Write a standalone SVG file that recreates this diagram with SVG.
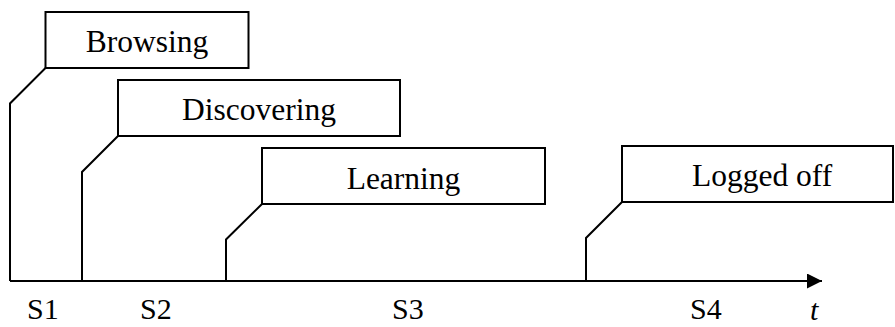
<svg xmlns="http://www.w3.org/2000/svg" width="895" height="327" viewBox="0 0 895 327">
<style>
.box{fill:#fff;stroke:#000;stroke-width:2}
.ln{fill:none;stroke:#000;stroke-width:2;stroke-linejoin:miter}
.lbl{font-family:"Liberation Serif","Times New Roman",serif;font-size:31.5px;fill:#000}
.sm{font-size:30px}
.it{font-style:italic}
</style>
<defs>
<marker id="arr" markerUnits="userSpaceOnUse" markerWidth="16" markerHeight="16" refX="15" refY="7.5" orient="auto">
<path d="M0,0 L15,7.5 L0,15 Z" fill="#000"/>
</marker>
</defs>
<g id="connectors">
<path class="ln" d="M10,281 H822" marker-end="url(#arr)"/>
<path class="ln" d="M45.5,68 L10,103.5 V281"/>
<path class="ln" d="M118,136 L82,172 V281"/>
<path class="ln" d="M262,204 L226,239.5 V281"/>
<path class="ln" d="M622,202 L586,238 V281"/>
</g>
<g id="browsing">
<rect class="box" x="45.5" y="12" width="203" height="56"/>
<text class="lbl" x="147" y="52" text-anchor="middle">Browsing</text>
</g>
<g id="discovering">
<rect class="box" x="118" y="80" width="282" height="56"/>
<text class="lbl" x="259" y="120" text-anchor="middle">Discovering</text>
</g>
<g id="learning">
<rect class="box" x="262" y="148" width="283" height="56"/>
<text class="lbl" x="403.5" y="188.5" text-anchor="middle">Learning</text>
</g>
<g id="loggedoff">
<rect class="box" x="622" y="146" width="271" height="56"/>
<text class="lbl" x="692" y="186">Logged off</text>
</g>
<g id="labels">
<text class="lbl sm" x="27" y="319">S1</text>
<text class="lbl sm" x="140" y="319">S2</text>
<text class="lbl sm" x="392" y="319">S3</text>
<text class="lbl sm" x="690" y="319">S4</text>
<text class="lbl sm it" x="810" y="320">t</text>
</g>
</svg>
